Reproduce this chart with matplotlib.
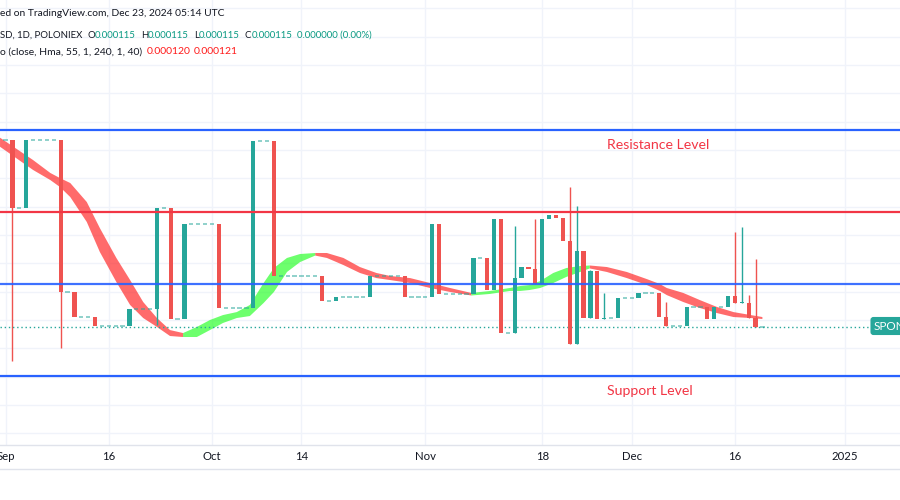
import numpy as np
import pandas as pd
import matplotlib
matplotlib.use("Agg")
import matplotlib.pyplot as plt
import matplotlib.dates as mdates

plt.rcParams['font.family'] = ['Lato', 'DejaVu Sans']

# ---------------- data (prices in units of 1e-6) ----------------
SCALE = 1e-6
start_date = '2024-09-01'

opens = [247.1, 247.1, 199.3, 199.3, 247.1, 247.1, 247.1, 247.1, 247.1, 140.0,
         140.0, 121.9, 121.9, 121.9, 115.5, 115.5, 115.5, 115.5, 115.5, 127.5,
         127.5, 127.5, 127.5, 199.3, 199.3, 120.5, 120.5, 187.5, 187.5, 187.5,
         187.5, 187.5, 128.7, 128.7, 128.7, 128.7, 128.7, 246.4, 246.4, 246.4,
         151.1, 151.1, 151.1, 151.1, 151.1, 151.1, 151.1, 133.6, 133.6, 136.5,
         136.5, 136.5, 136.5, 136.5, 151.1, 151.1, 151.1, 151.1, 151.1, 136.0,
         136.0, 136.0, 136.0, 187.5, 138.1, 138.1, 138.1, 138.1, 138.1, 164.0,
         164.0, 141.4, 191.1, 111.1, 111.1, 149.4, 157.2, 155.8, 145.4, 191.1,
         194.1, 192.3, 176.0, 102.8, 168.9, 121.2, 154.8, 120.5, 121.2, 121.2,
         135.3, 135.3, 135.3, 138.8, 138.8, 138.8, 122.3, 115.8, 115.8, 115.8,
         129.0, 129.0, 129.0, 120.5, 129.0, 129.0, 137.1, 131.8, 132.0, 121.2,
         115.1]
highs = [247.1, 247.1, 199.3, 247.1, 247.1, 247.1, 247.1, 247.1, 247.1, 140.0,
         140.0, 121.9, 121.9, 121.9, 115.5, 115.5, 115.5, 115.5, 127.5, 127.5,
         127.5, 127.5, 199.3, 199.3, 199.3, 120.5, 187.5, 187.5, 187.5, 187.5,
         187.5, 187.5, 128.7, 128.7, 128.7, 128.7, 246.4, 246.4, 246.4, 246.4,
         151.1, 151.1, 151.1, 151.1, 151.1, 151.1, 151.1, 133.6, 136.5, 136.5,
         136.5, 136.5, 136.5, 151.1, 151.1, 151.1, 151.1, 151.1, 151.1, 136.0,
         136.0, 136.0, 187.5, 187.5, 138.1, 138.1, 138.1, 138.1, 164.0, 164.0,
         164.0, 191.1, 191.1, 111.1, 186.4, 157.2, 157.2, 191.1, 191.1, 194.1,
         194.1, 192.3, 213.7, 200.5, 168.9, 155.5, 154.8, 138.8, 121.2, 135.3,
         135.3, 135.3, 138.8, 138.8, 138.8, 138.8, 132.9, 115.8, 115.8, 129.0,
         129.0, 129.0, 129.0, 129.0, 129.0, 137.1, 182.4, 185.4, 138.0, 162.8,
         115.1]
lows = [247.1, 91.1, 199.3, 199.3, 247.1, 247.1, 247.1, 247.1, 100.4, 140.0,
        121.9, 121.9, 121.9, 115.5, 115.5, 115.5, 115.5, 115.5, 115.5, 127.5,
        127.5, 127.5, 116.5, 199.3, 120.5, 120.5, 120.5, 187.5, 187.5, 187.5,
        187.5, 128.7, 128.7, 128.7, 128.7, 128.7, 128.7, 246.4, 246.4, 151.1,
        151.1, 151.1, 151.1, 151.1, 151.1, 151.1, 133.6, 133.6, 133.6, 136.5,
        136.5, 136.5, 136.5, 136.5, 151.1, 151.1, 151.1, 151.1, 136.0, 136.0,
        136.0, 136.0, 136.0, 138.1, 138.1, 138.1, 138.1, 138.1, 138.1, 164.0,
        141.4, 141.4, 111.1, 111.1, 111.1, 149.4, 155.8, 145.4, 145.4, 191.1,
        192.3, 176.0, 102.8, 102.8, 121.2, 121.2, 120.5, 120.5, 121.2, 121.2,
        135.3, 135.3, 135.3, 138.8, 138.8, 122.3, 115.8, 115.8, 115.8, 115.8,
        129.0, 129.0, 120.5, 120.5, 129.0, 129.0, 131.8, 131.8, 121.2, 115.1,
        115.1]
closes = [247.1, 199.3, 199.3, 247.1, 247.1, 247.1, 247.1, 247.1, 140.0, 140.0,
          121.9, 121.9, 121.9, 115.5, 115.5, 115.5, 115.5, 115.5, 127.5, 127.5,
          127.5, 127.5, 199.3, 199.3, 120.5, 120.5, 187.5, 187.5, 187.5, 187.5,
          187.5, 128.7, 128.7, 128.7, 128.7, 128.7, 246.4, 246.4, 246.4, 151.1,
          151.1, 151.1, 151.1, 151.1, 151.1, 151.1, 133.6, 133.6, 136.5, 136.5,
          136.5, 136.5, 136.5, 151.1, 151.1, 151.1, 151.1, 151.1, 136.0, 136.0,
          136.0, 136.0, 187.5, 138.1, 138.1, 138.1, 138.1, 138.1, 164.0, 164.0,
          141.4, 191.1, 111.1, 111.1, 149.4, 157.2, 155.8, 145.4, 191.1, 194.1,
          192.3, 176.0, 102.8, 168.9, 121.2, 154.8, 120.5, 121.2, 121.2, 135.3,
          135.3, 135.3, 138.8, 138.8, 138.8, 122.3, 115.8, 115.8, 115.8, 129.0,
          129.0, 129.0, 120.5, 129.0, 129.0, 137.1, 131.8, 132.0, 121.2, 115.1,
          115.1]

# Hull band (two edges), sampled along the curve: day offset from start
hma_days = [-0.81, 4.0, 6.5, 7.9, 9.4, 11.8, 13.7, 16.1, 18.1, 20.0, 22.0, 23.9,
            25.8, 27.8, 29.7, 31.6, 33.6, 35.5, 37.5, 39.0, 40.9, 42.8, 45.0,
            46.7, 49.1, 51.5, 53.9, 55.9, 58.8, 61.7, 64.6, 67.7, 70.4, 73.3,
            74.8, 76.2, 77.7, 79.6, 81.5, 83.5, 84.9, 87.4, 90.3, 93.2, 95.1,
            96.1, 98.5, 100.9, 103.4, 105.8, 108.3, 110.0]
hma_upper = [248.7, 232.9, 223.8, 220.2, 216.7, 203.3, 184.9, 163.8, 148.2, 132.7,
             121.4, 112.9, 110.8, 115.1, 120.0, 123.5, 125.6, 130.6, 146.1, 156.7,
             163.8, 166.6, 167.3, 167.3, 163.8, 157.4, 153.2, 151.1, 149.6, 146.1,
             142.6, 139.1, 140.5, 142.6, 144.0, 144.7, 147.5, 153.2, 156.7, 158.1,
             158.5, 157.4, 153.9, 148.9, 145.4, 142.6, 139.1, 134.1, 129.2, 125.6,
             123.5, 122.1]
hma_lower = [242.3, 225.9, 218.8, 213.9, 206.8, 189.2, 168.0, 146.8, 130.6, 121.4,
             115.1, 108.7, 108.0, 108.0, 112.9, 117.9, 121.4, 122.8, 132.0, 139.8,
             153.9, 160.9, 165.5, 163.8, 158.8, 153.2, 149.6, 148.2, 146.1, 142.6,
             139.8, 137.3, 138.4, 140.5, 140.5, 141.2, 142.6, 146.1, 150.4, 153.9,
             156.4, 153.9, 149.6, 144.7, 140.5, 137.6, 132.7, 128.5, 124.9, 122.1,
             121.4, 120.7]

level_top = 254.1
level_resistance = 196.5
level_mid = 145.2
level_support = 80.5
last_price = 115.0

tick_dates = ['2024-09-01', '2024-09-16', '2024-10-01', '2024-10-14', '2024-11-01',
              '2024-11-18', '2024-12-01', '2024-12-16', '2025-01-01']
tick_labels = ['Sep', '16', 'Oct', '14', 'Nov', '18', 'Dec', '16', '2025']

header_title = 'ed on TradingView.com, Dec 23, 2024 05:14 UTC'
header_symbol = 'SD, 1D, POLONIEX'
ohlc_labels = ['O', 'H', 'L', 'C']
ohlc_values = ['0.000115', '0.000115', '0.000115', '0.000115']
change_text = '0.000000 (0.00%)'
indicator_text = 'o (close, Hma, 55, 1, 240, 1, 40)'
indicator_values = ['0.000120', '0.000121']
symbol_badge = 'SPONG'

# ---------------- figure ----------------
W, H = 900, 500
fig = plt.figure(figsize=(9, 5), dpi=100)
fig.patch.set_facecolor('white')
ax = fig.add_axes([0, 55 / H, 1, 445 / H])
renderer = fig.canvas.get_renderer()


def text_width(t):
    return t.get_window_extent(renderer).width


def fit_size(text_obj, width_px):
    size = text_obj.get_fontsize() * width_px / text_width(text_obj)
    text_obj.set_fontsize(size)
    return size


def probe_size(s, width_px):
    p = fig.text(0, 0, s, fontsize=9)
    size = fit_size(p, width_px)
    p.remove()
    return size


def put(x_px, y_px, s, color, size):
    t = fig.text(x_px / W, 1 - y_px / H, s, color=color, fontsize=size, va='center', ha='left')
    return x_px + text_width(t)


UP = '#26a69a'
DOWN = '#ef5350'

x0 = mdates.date2num(pd.Timestamp(start_date))
n = len(closes)
xs = x0 + np.arange(n)
o = np.array(opens) * SCALE
h = np.array(highs) * SCALE
l = np.array(lows) * SCALE
c = np.array(closes) * SCALE

ax.set_xlim(x0 - 0.814, x0 + 130.0)
ax.set_ylim(31.77 * SCALE, 345.9 * SCALE)

# grid
ax.set_yticks(np.arange(40, 341, 20) * SCALE)
ax.set_xticks([mdates.date2num(pd.Timestamp(d)) for d in tick_dates])
ax.grid(True, color='#f0f3fa', lw=1.0, zorder=0)
ax.set_axisbelow(True)
ax.tick_params(axis='y', left=False, labelleft=False)
ax.tick_params(axis='x', length=0, pad=4, labelcolor='#131722')
tick_fs = probe_size('2025', 26.5)
ax.set_xticklabels(tick_labels, fontsize=tick_fs)
for s in ['top', 'left', 'right']:
    ax.spines[s].set_visible(False)
ax.spines['bottom'].set_color('#e0e3eb')
ax.spines['bottom'].set_linewidth(1.0)

# Hull band
hx = x0 + np.array(hma_days)
hu = np.array(hma_upper) * SCALE
hl = np.array(hma_lower) * SCALE
mid = (hu + hl) / 2
rising_seg = np.diff(mid) > 0
green_pts = np.zeros(len(hx), bool)
red_pts = np.zeros(len(hx), bool)
for i, r in enumerate(rising_seg):
    if r:
        green_pts[i] = green_pts[i + 1] = True
    else:
        red_pts[i] = red_pts[i + 1] = True
ax.fill_between(hx, hl, hu, where=red_pts, color='#ff1f1f', alpha=0.66, lw=0, zorder=2)
ax.fill_between(hx, hl, hu, where=green_pts, color='#22ff22', alpha=0.66, lw=0, zorder=2)

# candles
bw = 0.62
for i in range(n):
    if o[i] == c[i]:
        ax.hlines(o[i], xs[i] - bw / 2, xs[i] + bw / 2, color=UP, lw=1.2, alpha=0.6, zorder=3)
        if h[i] > o[i] or l[i] < o[i]:
            ax.vlines(xs[i], l[i], h[i], color=UP, lw=1.0, zorder=3)
        continue
    col = UP if c[i] > o[i] else DOWN
    lo_b, hi_b = min(o[i], c[i]), max(o[i], c[i])
    if h[i] > hi_b or l[i] < lo_b:
        ax.vlines(xs[i], l[i], h[i], color=col, lw=1.0, zorder=3)
    ax.bar(xs[i], max(hi_b - lo_b, 0.6 * SCALE), bottom=lo_b, width=bw,
           color=col, linewidth=0, zorder=4)

# horizontal levels
BLUE = '#2962ff'
RED = '#f23645'
ax.axhline(level_top * SCALE, color=BLUE, lw=1.6, zorder=5)
ax.axhline(level_resistance * SCALE, color=RED, lw=1.6, zorder=5)
ax.axhline(level_mid * SCALE, color=BLUE, lw=1.6, zorder=5, alpha=0.9)
ax.axhline(level_support * SCALE, color=BLUE, lw=1.6, zorder=5)
ax.axhline(last_price * SCALE, color=UP, lw=1.0, ls=(0, (1, 2)), zorder=3)

# annotations
lvl_fs = probe_size('Resistance Level', 103)
put(607, 145, 'Resistance Level', RED, lvl_fs)
put(607, 391, 'Support Level', RED, lvl_fs)

# header
DARK = '#131722'
TEAL = '#089981'
HRED = '#ff1a1a'
fs1 = probe_size(header_title, 226)
put(0, 13, header_title, DARK, fs1)

# line 2 (chained so the pieces never overlap)
line2_full = header_symbol + '  ' + '  '.join(a + b for a, b in zip(ohlc_labels, ohlc_values)) \
    + '  ' + change_text
fs2 = probe_size(line2_full, 378)
p = fig.text(0, 0, '  ', fontsize=fs2)
gap2 = text_width(p)
p.remove()
xc = put(0, 35, header_symbol, DARK, fs2) + gap2
for lab, val in zip(ohlc_labels, ohlc_values):
    xc = put(xc, 35, lab, DARK, fs2)
    xc = put(xc, 35, val, TEAL, fs2) + gap2
put(xc, 35, change_text, TEAL, fs2)

# line 3
line3_full = indicator_text + '  ' + '  '.join(indicator_values)
fs3 = probe_size(line3_full, 243)
xc = put(0, 52, indicator_text, DARK, fs3) + gap2
xc = put(xc, 52, indicator_values[0], HRED, fs3) + gap2 * 0.6
put(xc, 52, indicator_values[1], HRED, fs3)

# symbol badge (cut by the right edge, as in the source screenshot)
fig.text(874 / W, 1 - 326 / H, symbol_badge, color='white', fontsize=8.5, va='center',
         ha='left', bbox=dict(boxstyle='round,pad=0.3,rounding_size=0.25', fc=UP, ec='none'))

# bottom separator of time scale
fig.add_artist(plt.Line2D([0, 1], [1 - 469 / H, 1 - 469 / H], color='#e0e3eb', lw=1.0))

fig.savefig('out.png', dpi=100, facecolor='white')
